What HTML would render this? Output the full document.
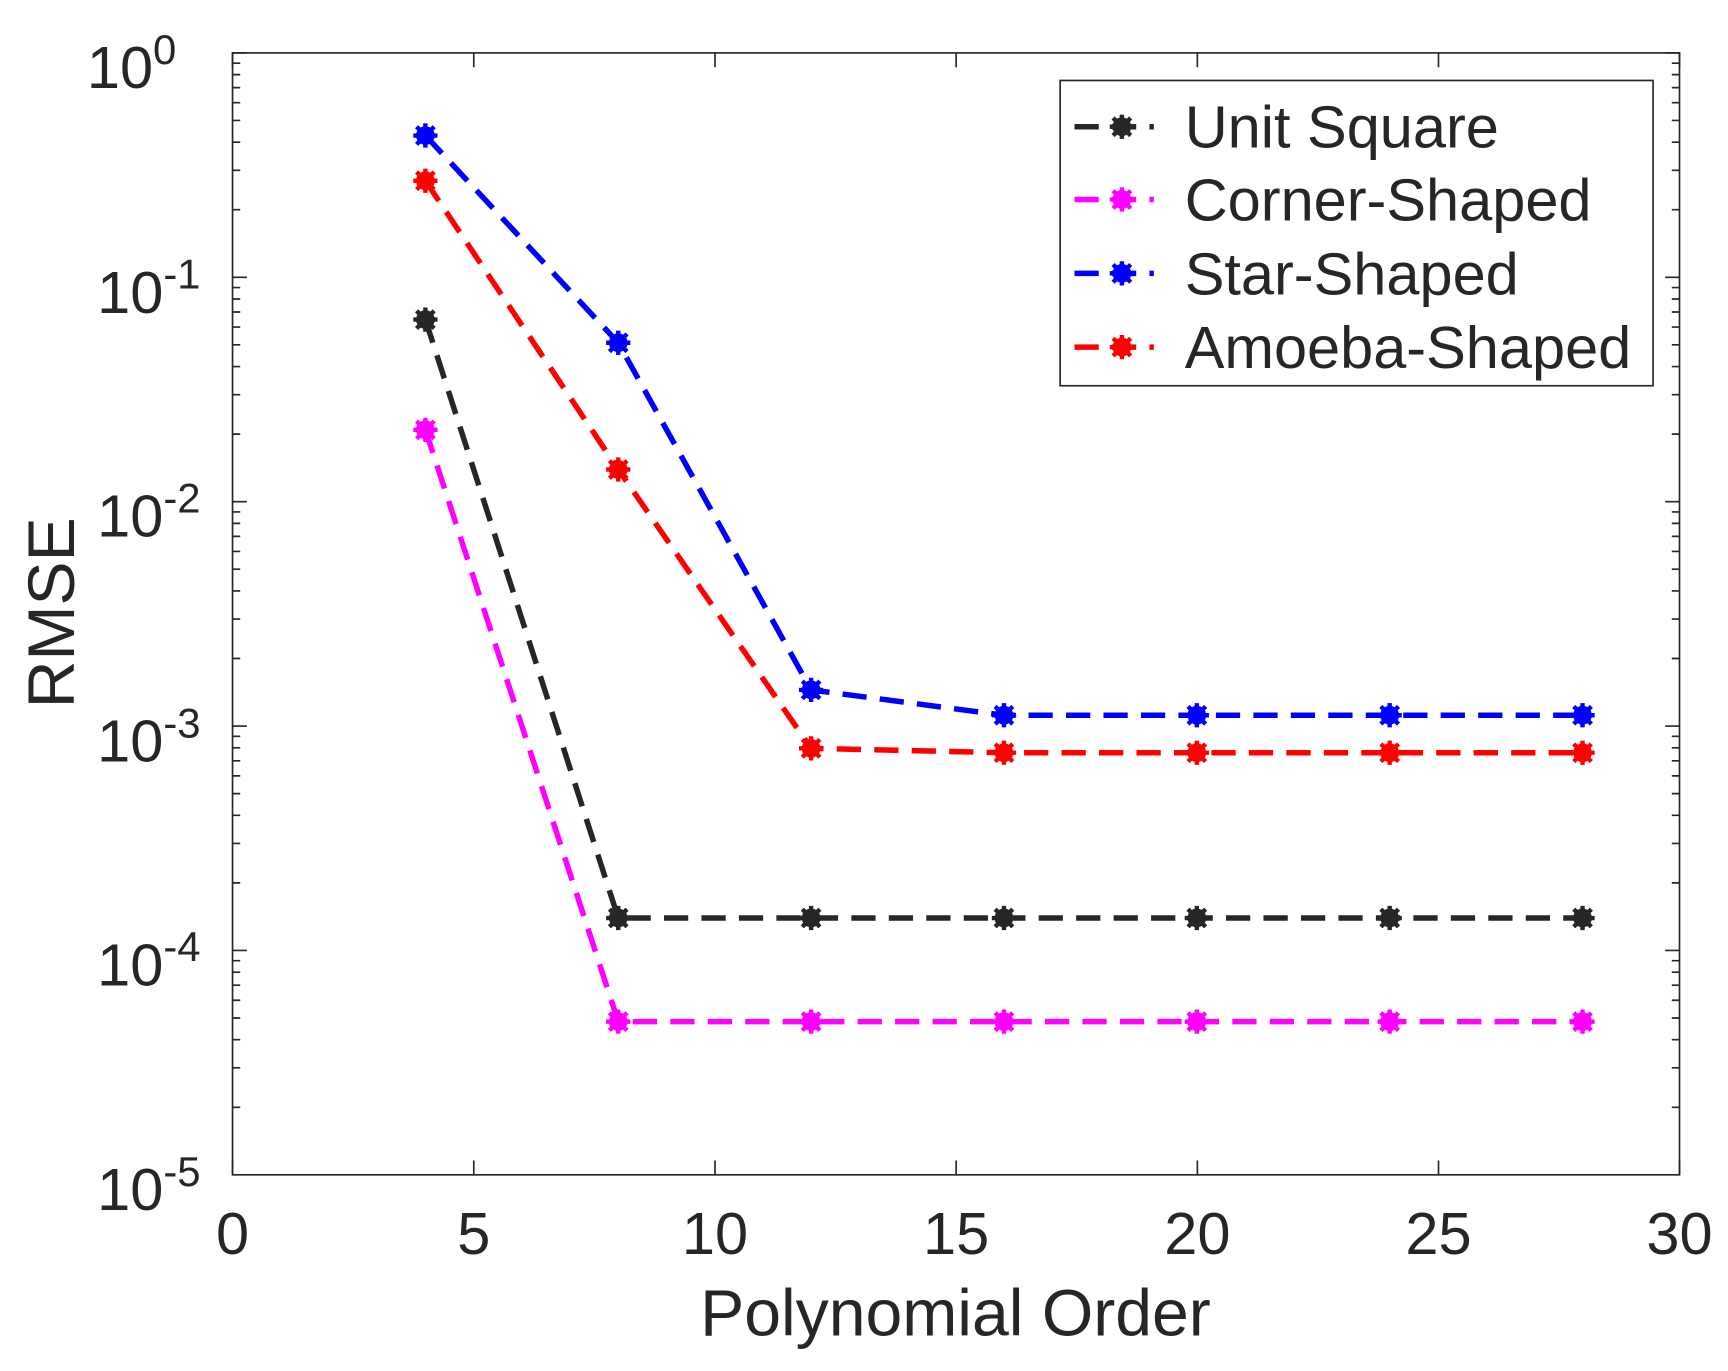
<!DOCTYPE html>
<html><head><style>html,body{margin:0;padding:0;background:#fff}svg{display:block}</style></head><body>
<svg width="1728" height="1371" viewBox="0 0 1568 1244" preserveAspectRatio="none" xmlns="http://www.w3.org/2000/svg" font-family="Liberation Sans, sans-serif" fill="#262626">
<defs>
<g id="m"><circle r="8"/><path d="M-11 0H11M0-11V11M-8-8L8 8M-8 8L8-8" stroke-width="4"/></g>
</defs>
<rect x="211" y="48" width="1313" height="1018" fill="#fff" stroke="#262626" stroke-width="1.5"/>
<g stroke="#262626" stroke-width="1.5">
<path d="M211 1066v-13M429.9 1066v-13M648.8 1066v-13M867.6 1066v-13M1086.5 1066v-13M1305.3 1066v-13M1524 1066v-13M211 48v13M429.9 48v13M648.8 48v13M867.6 48v13M1086.5 48v13M1305.3 48v13M1524 48v13"/>
<path d="M211 48h13M211 251.6h13M211 455.2h13M211 658.8h13M211 862.4h13M1524 48h-13M1524 251.6h-13M1524 455.2h-13M1524 658.8h-13M1524 862.4h-13"/>
<path d="M211 1004.7h7M211 968.9h7M211 943.4h7M211 923.7h7M211 907.6h7M211 893.9h7M211 882.1h7M211 871.7h7
M211 801.1h7M211 765.3h7M211 739.8h7M211 720.1h7M211 704h7M211 690.3h7M211 678.5h7M211 668.1h7
M211 597.5h7M211 561.7h7M211 536.2h7M211 516.5h7M211 500.4h7M211 486.7h7M211 474.9h7M211 464.5h7
M211 393.9h7M211 358.1h7M211 332.6h7M211 312.9h7M211 296.8h7M211 283.1h7M211 271.3h7M211 260.9h7
M211 190.3h7M211 154.5h7M211 129h7M211 109.3h7M211 93.2h7M211 79.5h7M211 67.7h7M211 57.3h7"/>
<path d="M1524 1004.7h-7M1524 968.9h-7M1524 943.4h-7M1524 923.7h-7M1524 907.6h-7M1524 893.9h-7M1524 882.1h-7M1524 871.7h-7
M1524 801.1h-7M1524 765.3h-7M1524 739.8h-7M1524 720.1h-7M1524 704h-7M1524 690.3h-7M1524 678.5h-7M1524 668.1h-7
M1524 597.5h-7M1524 561.7h-7M1524 536.2h-7M1524 516.5h-7M1524 500.4h-7M1524 486.7h-7M1524 474.9h-7M1524 464.5h-7
M1524 393.9h-7M1524 358.1h-7M1524 332.6h-7M1524 312.9h-7M1524 296.8h-7M1524 283.1h-7M1524 271.3h-7M1524 260.9h-7
M1524 190.3h-7M1524 154.5h-7M1524 129h-7M1524 109.3h-7M1524 93.2h-7M1524 79.5h-7M1524 67.7h-7M1524 57.3h-7"/>
</g>
<g font-size="54" text-anchor="middle">
<text x="211" y="1138">0</text><text x="429.9" y="1138">5</text><text x="648.8" y="1138">10</text><text x="867.6" y="1138">15</text><text x="1086.5" y="1138">20</text><text x="1305.3" y="1138">25</text><text x="1524" y="1138">30</text>
</g>
<g font-size="54" text-anchor="end">
<text x="160" y="80">10<tspan font-size="38" dy="-22">0</tspan></text>
<text x="182" y="284">10<tspan font-size="38" dy="-22">-1</tspan></text>
<text x="182" y="487">10<tspan font-size="38" dy="-22">-2</tspan></text>
<text x="182" y="691">10<tspan font-size="38" dy="-22">-3</tspan></text>
<text x="182" y="894">10<tspan font-size="38" dy="-22">-4</tspan></text>
<text x="182" y="1098">10<tspan font-size="38" dy="-22">-5</tspan></text>
</g>
<text x="867" y="1212" font-size="60" text-anchor="middle">Polynomial Order</text>
<text transform="translate(67,556) rotate(-90)" font-size="60" text-anchor="middle">RMSE</text>
<g fill="none" stroke-width="5" stroke-dasharray="22 12">
<polyline stroke="#262626" points="386,290 561,833 736,833 911,833 1086,833 1261,833 1436,833"/>
<polyline stroke="#ff00ff" points="386,390 561,927 736,927 911,927 1086,927 1261,927 1436,927"/>
<polyline stroke="#0000ff" points="386,123 561,311 736,626 911,649 1086,649 1261,649 1436,649"/>
<polyline stroke="#ff0000" points="386,164 561,426 736,679 911,683 1086,683 1261,683 1436,683"/>
</g>
<g fill="#262626" stroke="#262626"><use href="#m" x="386" y="290"/><use href="#m" x="561" y="833"/><use href="#m" x="736" y="833"/><use href="#m" x="911" y="833"/><use href="#m" x="1086" y="833"/><use href="#m" x="1261" y="833"/><use href="#m" x="1436" y="833"/></g>
<g fill="#ff00ff" stroke="#ff00ff"><use href="#m" x="386" y="390"/><use href="#m" x="561" y="927"/><use href="#m" x="736" y="927"/><use href="#m" x="911" y="927"/><use href="#m" x="1086" y="927"/><use href="#m" x="1261" y="927"/><use href="#m" x="1436" y="927"/></g>
<g fill="#0000ff" stroke="#0000ff"><use href="#m" x="386" y="123"/><use href="#m" x="561" y="311"/><use href="#m" x="736" y="626"/><use href="#m" x="911" y="649"/><use href="#m" x="1086" y="649"/><use href="#m" x="1261" y="649"/><use href="#m" x="1436" y="649"/></g>
<g fill="#ff0000" stroke="#ff0000"><use href="#m" x="386" y="164"/><use href="#m" x="561" y="426"/><use href="#m" x="736" y="679"/><use href="#m" x="911" y="683"/><use href="#m" x="1086" y="683"/><use href="#m" x="1261" y="683"/><use href="#m" x="1436" y="683"/></g>
<rect x="962" y="73" width="538" height="277" fill="#fff" stroke="#262626" stroke-width="1.5"/>
<g fill="none" stroke-width="5">
<path d="M975 115h72" stroke="#262626" stroke-dasharray="22 12"/><path d="M975 181h72" stroke="#ff00ff" stroke-dasharray="22 12"/><path d="M975 248h72" stroke="#0000ff" stroke-dasharray="22 12"/><path d="M975 315h72" stroke="#ff0000" stroke-dasharray="22 12"/>
</g>
<use href="#m" x="1018" y="115" fill="#262626" stroke="#262626"/>
<use href="#m" x="1018" y="181" fill="#ff00ff" stroke="#ff00ff"/>
<use href="#m" x="1018" y="248" fill="#0000ff" stroke="#0000ff"/>
<use href="#m" x="1018" y="315" fill="#ff0000" stroke="#ff0000"/>
<g font-size="54">
<text x="1075" y="134">Unit Square</text><text x="1075" y="200">Corner-Shaped</text><text x="1075" y="267">Star-Shaped</text><text x="1075" y="334">Amoeba-Shaped</text>
</g>
</svg>
</body></html>
